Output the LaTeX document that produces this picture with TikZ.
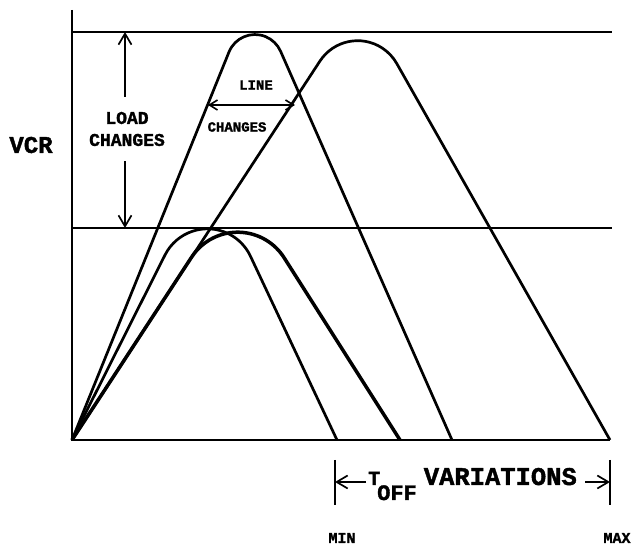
\documentclass[tikz,border=0pt]{standalone}
\usepackage{fontspec}
\setmainfont{Liberation Mono}[BoldFeatures={FakeBold=1.6}]
\usetikzlibrary{arrows.meta}
\tikzset{
  axisline/.style={line width=2.2pt},
  guide/.style={line width=2.1pt},
  hump/.style={line width=2.7pt,line join=round},
  humpbold/.style={hump,line width=3.5pt},
  dimarrow/.style={-{Straight Barb[length=11pt,width=13pt,line width=1.7pt]},line width=2pt},
  linearrow/.style={{Straight Barb[length=8pt,width=10pt,line width=1.6pt]}-{Straight Barb[length=8pt,width=10pt,line width=1.6pt]},line width=1.9pt},
  lbl/.style={font=\bfseries\fontsize{#1}{#1}\selectfont,inner sep=0pt,align=center}
}

\begin{document}
\begin{tikzpicture}[x=1pt,y=1pt]
  \useasboundingbox (0,0) rectangle (635,548);
  % axes and the two load limits
  \coordinate (O) at (72,108);
  \coordinate (ytop) at (72,538);
  \coordinate (xend) at (610,108);
  \coordinate (hi) at (72,516);
  \coordinate (lo) at (72,320);
  \draw[axisline] (ytop) -- (O) -- (xend);
  \draw[guide] (hi) -- (612,516);
  \draw[guide] (lo) -- (612,320);

  % waveforms
  \draw[hump] (O) -- (229,496) arc[start angle=157.9,end angle=23.7,radius=28] -- (452,108);
  \draw[hump] (O) -- (320,487) arc[start angle=146.7,end angle=29.4,radius=45] -- (610,108);
  \draw[hump] (O) -- (165,293) arc[start angle=153.3,end angle=25.2,radius=47.5] -- (337,108);
  \draw[humpbold] (O) -- (191.7,291) arc[start angle=146.7,end angle=32.2,radius=55] -- (400,108);

  % labels
  \node[lbl=24] (vcr) at (31,403) {VCR};
  \node[lbl=18,font=\bfseries\fontsize{18}{22}\selectfont,inner ysep=15pt] (load) at (127,419) {LOAD\\CHANGES};
  \coordinate (ldhi) at (125,516);
  \coordinate (ldlo) at (125,320);
  \draw[dimarrow] (load.north -| ldhi) -- (ldhi);
  \draw[dimarrow] (load.south -| ldlo) -- (ldlo);

  \coordinate (lnl) at (208,443);
  \coordinate (lnr) at (295,443);
  \draw[linearrow] (lnl) -- (lnr);
  \node[lbl=14] (line) at (256,463) {LINE};
  \node[lbl=14] (linechg) at (237,421) {CHANGES};

  % T_OFF range
  \coordinate (barL) at (335,66);
  \coordinate (barR) at (610,66);
  \draw[guide] (335,88) -- (335,43);
  \draw[guide] (610,88) -- (610,43);
  \node[lbl=25.5,anchor=base west,inner xsep=2pt] (toff) at (366,63)
    {{\fontsize{20}{20}\selectfont T}\kern-3pt\raisebox{-15pt}{\fontsize{22}{22}\selectfont OFF}\kern7pt VARIATIONS};
  \draw[dimarrow] (toff.west |- barL) -- (barL);
  \draw[dimarrow] ([xshift=6pt]toff.east |- barR) -- (barR);

  \node[lbl=15] (min) at (342,10) {MIN};
  \node[lbl=15] (max) at (617,10) {MAX};
\end{tikzpicture}
\end{document}
